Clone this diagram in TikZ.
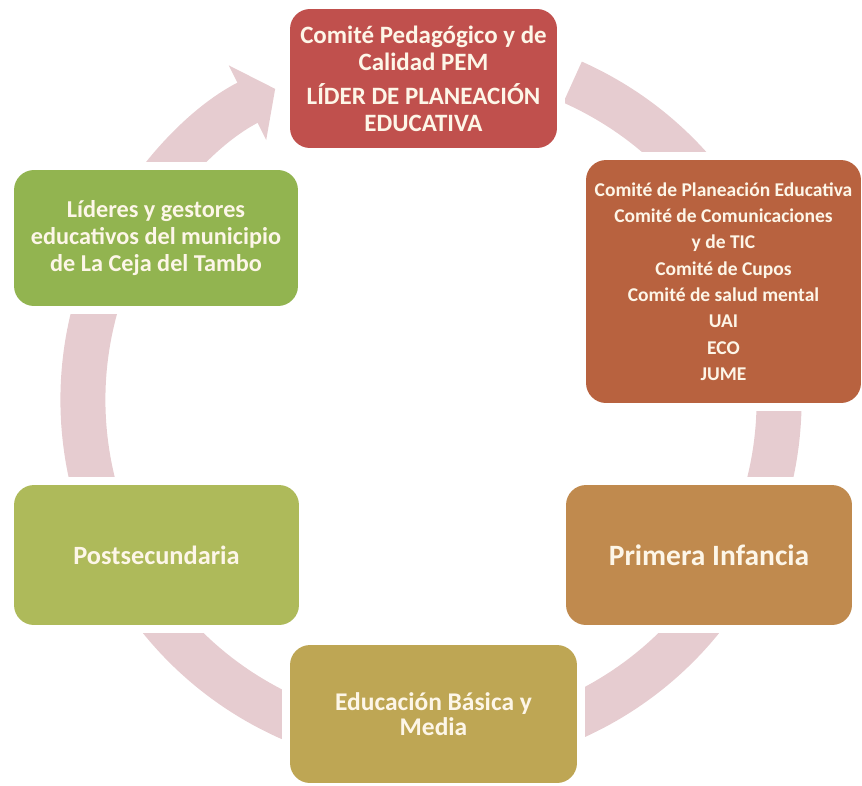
\documentclass[tikz,border=0pt]{standalone}
\usepackage{fontspec}
\setmainfont{Carlito}
\usetikzlibrary{arrows.meta,calc,positioning}
\definecolor{ringpink}{HTML}{E6CCD0}
\definecolor{boxtext}{HTML}{FDF6E8}
\definecolor{redbox}{HTML}{C0504D}
\definecolor{rustbox}{HTML}{B8623F}
\definecolor{greenbox}{HTML}{92B450}
\definecolor{olivebox}{HTML}{AEBA5A}
\definecolor{brownbox}{HTML}{C08A4E}
\definecolor{goldbox}{HTML}{BEA654}

\begin{document}
\begin{tikzpicture}[x=0.02cm, y=-0.02cm,
    box/.style={rectangle, rounded corners=0.4cm, inner sep=0pt, align=center,
        text=boxtext, font=\bfseries, preaction={draw=white, line width=0.32cm}}]
\useasboundingbox (0,0) rectangle (862,785);

% cycle ring behind the boxes
\coordinate (ctr) at (431,400);
\draw[ringpink, line width=0.9cm, -{Triangle[length=0.62cm, width=1.64cm]}]
    ($(ctr)+(-66:348)$) arc[start angle=-66, end angle=243.4, radius=348];

\node[box, fill=redbox, minimum width=5.34cm, minimum height=2.78cm,
    font=\bfseries\fontsize{14.2}{15.3}\selectfont] (comite) at (423.5,78.5)
    {Comité Pedagógico y de\\Calidad PEM\\[4pt]LÍDER DE PLANEACIÓN\\EDUCATIVA};
\node[box, fill=rustbox, minimum width=5.5cm, minimum height=4.86cm,
    font=\bfseries\fontsize{11.1}{15}\selectfont] (comites) at (723.5,281.5)
    {Comité de Planeación Educativa\\Comité de Comunicaciones\\y de TIC\\Comité de Cupos\\Comité de salud mental\\UAI\\ECO\\JUME};
\node[box, fill=greenbox, minimum width=5.68cm, minimum height=2.72cm,
    font=\bfseries\fontsize{13.8}{15.3}\selectfont] (lideres) at (156,238)
    {Líderes y gestores\\educativos del municipio\\de La Ceja del Tambo};
\node[box, fill=olivebox, minimum width=5.7cm, minimum height=2.8cm,
    font=\bfseries\fontsize{15}{17}\selectfont] (post) at (156.5,555) {Postsecundaria};
\node[box, fill=brownbox, minimum width=5.72cm, minimum height=2.8cm,
    font=\bfseries\fontsize{16.8}{18}\selectfont] (infancia) at (709,555) {Primera Infancia};
\node[box, fill=goldbox, minimum width=5.74cm, minimum height=2.76cm,
    font=\bfseries\fontsize{14.5}{14.5}\selectfont] (basica) at (433.5,714)
    {Educación Básica y\\Media};
\end{tikzpicture}
\end{document}
